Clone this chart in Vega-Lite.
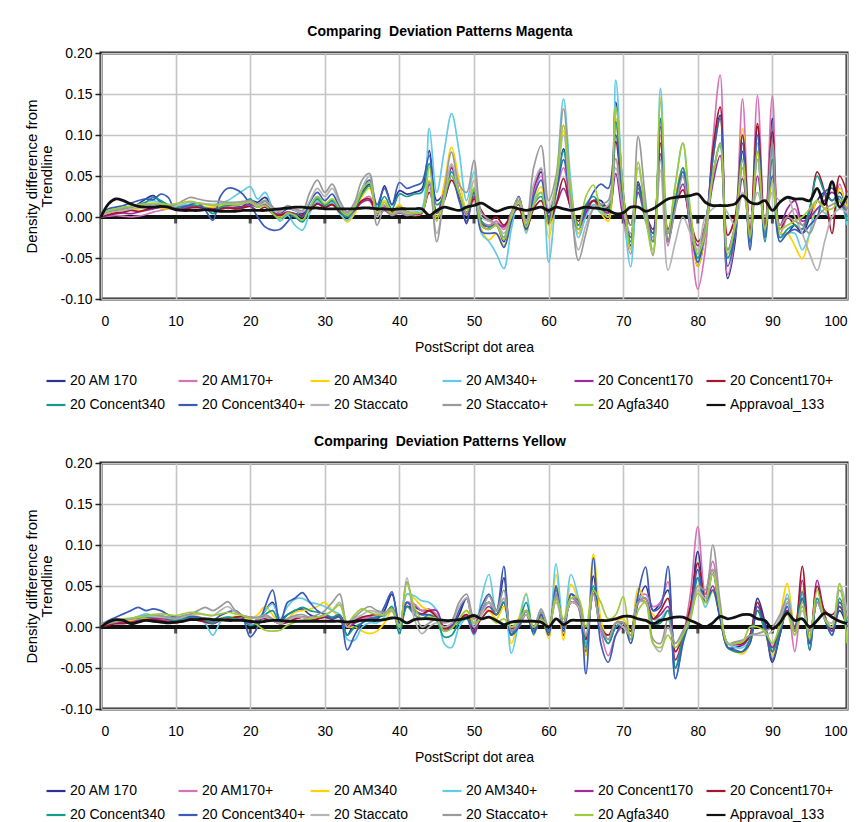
{
"$schema":"https://vega.github.io/schema/vega-lite/v6.json",
"background":"white",
"padding":{"left":22,"top":23,"right":4,"bottom":0},
"config":{
 "font":"Liberation Sans",
 "view":{"stroke":"#222222","strokeWidth":3},
 "title":{"fontSize":14,"fontWeight":"bold","color":"#000000","offset":7,"dx":-34},
 "axis":{"labelFont":"Liberation Sans","labelFontSize":14,"labelColor":"#000000","titleFont":"Liberation Sans","titleFontSize":14,"titleFontWeight":"normal","titleColor":"#000000","gridColor":"#c4c4c4","gridWidth":1.6,"domain":false},
 "axisX":{"ticks":false,"labelPadding":15,"titlePadding":12},
 "axisY":{"tickSize":6,"tickColor":"#222222","tickWidth":1.5,"labelPadding":3,"titlePadding":6,"titleFontSize":15,"titleLineHeight":15},
 "legend":{"labelFont":"Liberation Sans","labelFontSize":14,"labelColor":"#000000","symbolType":"stroke","symbolStrokeWidth":2.2,"symbolSize":360,"columns":6,"gridAlign":"all","columnPadding":0,"rowPadding":6,"labelOffset":3,"orient":"none","legendX":-56,"legendY":317,"direction":"horizontal","title":null},
 "concat":{"spacing":19}
},
"datasets":{
"names":[{"k":"a","n":"20 AM 170"},{"k":"b","n":"20 AM170+"},{"k":"c","n":"20 AM340"},{"k":"d","n":"20 AM340+"},{"k":"e","n":"20 Concent170"},{"k":"f","n":"20 Concent170+"},{"k":"g","n":"20 Concent340"},{"k":"h","n":"20 Concent340+"},{"k":"i","n":"20 Staccato"},{"k":"j","n":"20 Staccato+"},{"k":"k","n":"20 Agfa340"},{"k":"z","n":"Appravoal_133"}],
"mag":[
{"x":0,"a":0.002,"b":0,"c":0,"d":0.003,"e":0,"f":0,"g":0.002,"h":0.005,"i":0.002,"j":0.003,"k":0.004,"z":0},
{"x":1,"a":0.006,"b":0.001,"c":0.004,"d":0.008,"e":0.002,"f":0.003,"g":0.006,"h":0.01,"i":0.005,"j":0.007,"k":0.008,"z":0.016},
{"x":2,"a":0.008,"b":0.002,"c":0.006,"d":0.01,"e":0.004,"f":0.005,"g":0.009,"h":0.012,"i":0.007,"j":0.009,"k":0.01,"z":0.022},
{"x":3,"a":0.01,"b":0.001,"c":0.008,"d":0.012,"e":0.005,"f":0.006,"g":0.011,"h":0.014,"i":0.008,"j":0.01,"k":0.012,"z":0.02},
{"x":4,"a":0.012,"b":0,"c":0.009,"d":0.013,"e":0.004,"f":0.008,"g":0.013,"h":0.017,"i":0.01,"j":0.012,"k":0.013,"z":0.016},
{"x":5,"a":0.016,"b":0.001,"c":0.01,"d":0.015,"e":0.006,"f":0.007,"g":0.015,"h":0.02,"i":0.011,"j":0.013,"k":0.015,"z":0.013},
{"x":6,"a":0.022,"b":0.003,"c":0.012,"d":0.018,"e":0.008,"f":0.009,"g":0.018,"h":0.022,"i":0.013,"j":0.015,"k":0.016,"z":0.012},
{"x":7,"a":0.026,"b":0.006,"c":0.012,"d":0.02,"e":0.01,"f":0.012,"g":0.024,"h":0.021,"i":0.014,"j":0.016,"k":0.017,"z":0.012},
{"x":8,"a":0.018,"b":0.008,"c":0.011,"d":0.017,"e":0.012,"f":0.015,"g":0.02,"h":0.028,"i":0.013,"j":0.014,"k":0.016,"z":0.013},
{"x":9,"a":0.012,"b":0.01,"c":0.01,"d":0.014,"e":0.013,"f":0.014,"g":0.015,"h":0.024,"i":0.012,"j":0.013,"k":0.015,"z":0.012},
{"x":10,"a":0.01,"b":0.01,"c":0.011,"d":0.012,"e":0.011,"f":0.01,"g":0.012,"h":0.008,"i":0.013,"j":0.015,"k":0.016,"z":0.009},
{"x":11,"a":0.012,"b":0.011,"c":0.013,"d":0.014,"e":0.01,"f":0.009,"g":0.013,"h":0.012,"i":0.016,"j":0.02,"k":0.018,"z":0.008},
{"x":12,"a":0.013,"b":0.012,"c":0.015,"d":0.016,"e":0.012,"f":0.011,"g":0.014,"h":0.015,"i":0.018,"j":0.024,"k":0.019,"z":0.008},
{"x":13,"a":0.012,"b":0.011,"c":0.014,"d":0.017,"e":0.013,"f":0.012,"g":0.014,"h":0.017,"i":0.017,"j":0.022,"k":0.017,"z":0.008},
{"x":14,"a":0.01,"b":0.01,"c":0.012,"d":0.016,"e":0.011,"f":0.01,"g":0.011,"h":0.008,"i":0.016,"j":0.02,"k":0.015,"z":0.009},
{"x":15,"a":0.009,"b":0.009,"c":0.012,"d":0.015,"e":0.01,"f":0.009,"g":0.004,"h":-0.004,"i":0.015,"j":0.019,"k":0.014,"z":0.008},
{"x":16,"a":0.01,"b":0.01,"c":0.013,"d":0.017,"e":0.011,"f":0.01,"g":0.012,"h":0.025,"i":0.016,"j":0.019,"k":0.015,"z":0.007},
{"x":17,"a":0.011,"b":0.011,"c":0.014,"d":0.02,"e":0.012,"f":0.011,"g":0.014,"h":0.035,"i":0.016,"j":0.018,"k":0.016,"z":0.007},
{"x":18,"a":0.012,"b":0.01,"c":0.014,"d":0.026,"e":0.011,"f":0.01,"g":0.015,"h":0.034,"i":0.017,"j":0.018,"k":0.015,"z":0.007},
{"x":19,"a":0.013,"b":0.011,"c":0.016,"d":0.032,"e":0.012,"f":0.011,"g":0.016,"h":0.028,"i":0.018,"j":0.019,"k":0.016,"z":0.008},
{"x":20,"a":0.02,"b":0.015,"c":0.02,"d":0.037,"e":0.016,"f":0.013,"g":0.022,"h":0.015,"i":0.018,"j":0.02,"k":0.018,"z":0.008},
{"x":21,"a":0.018,"b":0.012,"c":0.015,"d":0.022,"e":0.012,"f":0.008,"g":0.012,"h":0,"i":0.014,"j":0.016,"k":0.012,"z":0.008},
{"x":22,"a":0.024,"b":0.015,"c":0.02,"d":0.03,"e":0.016,"f":0.012,"g":0.02,"h":-0.012,"i":0.017,"j":0.02,"k":0.014,"z":0.008},
{"x":23,"a":0.012,"b":0.006,"c":0.008,"d":0.01,"e":0.006,"f":0.004,"g":0.005,"h":-0.016,"i":0.01,"j":0.012,"k":0.004,"z":0.009},
{"x":24,"a":0.005,"b":0.002,"c":0,"d":-0.005,"e":0.003,"f":0.002,"g":-0.002,"h":-0.015,"i":0.006,"j":0.008,"k":-0.002,"z":0.01},
{"x":25,"a":0.01,"b":0.006,"c":0.005,"d":0.002,"e":0.006,"f":0.005,"g":0.004,"h":-0.006,"i":0.012,"j":0.014,"k":0.005,"z":0.011},
{"x":26,"a":0.008,"b":0.004,"c":0.002,"d":-0.01,"e":0.004,"f":0.004,"g":0,"h":0.004,"i":0.008,"j":0.01,"k":0.002,"z":0.012},
{"x":27,"a":0.004,"b":0.002,"c":-0.004,"d":-0.016,"e":0.002,"f":0.002,"g":-0.006,"h":0,"i":0.006,"j":0.008,"k":-0.004,"z":0.012},
{"x":28,"a":0.012,"b":0.008,"c":0.01,"d":0.005,"e":0.008,"f":0.008,"g":0.01,"h":0.018,"i":0.02,"j":0.03,"k":0.012,"z":0.011},
{"x":29,"a":0.025,"b":0.018,"c":0.022,"d":0.02,"e":0.016,"f":0.016,"g":0.022,"h":0.03,"i":0.035,"j":0.045,"k":0.025,"z":0.011},
{"x":30,"a":0.015,"b":0.012,"c":0.014,"d":0.012,"e":0.012,"f":0.012,"g":0.014,"h":0.02,"i":0.025,"j":0.03,"k":0.016,"z":0.01},
{"x":31,"a":0.02,"b":0.016,"c":0.018,"d":0.018,"e":0.015,"f":0.015,"g":0.02,"h":0.028,"i":0.035,"j":0.04,"k":0.022,"z":0.01},
{"x":32,"a":0.01,"b":0.008,"c":0.006,"d":0.004,"e":0.006,"f":0.006,"g":0.008,"h":0.012,"i":0.016,"j":0.02,"k":0.01,"z":0.01},
{"x":33,"a":0.004,"b":0.002,"c":-0.006,"d":-0.004,"e":0,"f":0.002,"g":0,"h":0.005,"i":0.004,"j":0.006,"k":0.002,"z":0.01},
{"x":34,"a":0.012,"b":0.01,"c":0.004,"d":0.008,"e":0.008,"f":0.01,"g":0.01,"h":0.015,"i":0.015,"j":0.018,"k":0.012,"z":0.01},
{"x":35,"a":0.03,"b":0.02,"c":0.025,"d":0.035,"e":0.018,"f":0.02,"g":0.028,"h":0.034,"i":0.035,"j":0.045,"k":0.033,"z":0.011},
{"x":36,"a":0.04,"b":0.025,"c":0.035,"d":0.05,"e":0.02,"f":0.022,"g":0.038,"h":0.045,"i":0.05,"j":0.053,"k":0.042,"z":0.011},
{"x":37,"a":0.01,"b":0.005,"c":0.008,"d":0.012,"e":0.004,"f":0.008,"g":0.01,"h":0.015,"i":0,"j":-0.01,"k":0.005,"z":0.01},
{"x":38,"a":0.038,"b":0.012,"c":0.02,"d":0.015,"e":0.008,"f":0.014,"g":0.025,"h":0.035,"i":0.015,"j":0.01,"k":0.018,"z":0.01},
{"x":39,"a":0.015,"b":0.006,"c":0.006,"d":0.005,"e":0.002,"f":0.006,"g":0.01,"h":0.015,"i":0.004,"j":0.002,"k":0.004,"z":0.009},
{"x":40,"a":0.032,"b":0.008,"c":0.015,"d":0.012,"e":0.005,"f":0.012,"g":0.028,"h":0.042,"i":0.008,"j":0.006,"k":0.012,"z":0.01},
{"x":41,"a":0.028,"b":0.004,"c":0.004,"d":0.006,"e":0.002,"f":0.006,"g":0.025,"h":0.035,"i":0.004,"j":0.002,"k":0.006,"z":0.01},
{"x":42,"a":0.03,"b":0.004,"c":0.002,"d":0.006,"e":0.003,"f":0.005,"g":0.028,"h":0.038,"i":0.005,"j":0.004,"k":0.005,"z":0.01},
{"x":43,"a":0.034,"b":0.006,"c":0.004,"d":0.01,"e":0.004,"f":0.006,"g":0.03,"h":0.042,"i":0.006,"j":0.006,"k":0.006,"z":0.01},
{"x":44,"a":0.081,"b":0.04,"c":0.045,"d":0.108,"e":0.04,"f":0.03,"g":0.065,"h":0.075,"i":0.035,"j":0.043,"k":0.061,"z":0.002},
{"x":45,"a":0.02,"b":0.005,"c":0,"d":0.03,"e":0.005,"f":0.005,"g":0.015,"h":0.005,"i":-0.02,"j":-0.03,"k":-0.005,"z":0.008},
{"x":46,"a":0.03,"b":0.03,"c":0.04,"d":0.08,"e":0.03,"f":0.02,"g":0.025,"h":0.02,"i":0.02,"j":0.03,"k":0.025,"z":0.012},
{"x":47,"a":0.06,"b":0.063,"c":0.085,"d":0.126,"e":0.06,"f":0.045,"g":0.055,"h":0.05,"i":0.065,"j":0.079,"k":0.05,"z":0.01},
{"x":48,"a":0.03,"b":0.03,"c":0.045,"d":0.08,"e":0.03,"f":0.025,"g":0.03,"h":0.02,"i":0.03,"j":0.04,"k":0.03,"z":0.008},
{"x":49,"a":-0.008,"b":0.002,"c":0.01,"d":0.02,"e":0.004,"f":0.006,"g":0.005,"h":-0.005,"i":0.01,"j":0.03,"k":0.005,"z":0.012},
{"x":50,"a":0.03,"b":0.02,"c":0.045,"d":0.055,"e":0.025,"f":0.022,"g":0.03,"h":0.035,"i":0.045,"j":0.069,"k":0.035,"z":0.014},
{"x":51,"a":-0.01,"b":-0.005,"c":-0.015,"d":-0.02,"e":-0.008,"f":0.008,"g":-0.005,"h":-0.018,"i":0,"j":0.005,"k":-0.01,"z":0.017},
{"x":52,"a":-0.015,"b":-0.01,"c":-0.028,"d":-0.03,"e":-0.012,"f":-0.005,"g":-0.012,"h":-0.02,"i":-0.005,"j":-0.003,"k":-0.015,"z":0.012},
{"x":53,"a":-0.01,"b":-0.005,"c":-0.02,"d":-0.045,"e":-0.008,"f":0,"g":-0.01,"h":-0.02,"i":-0.008,"j":-0.01,"k":-0.01,"z":0.007},
{"x":54,"a":-0.03,"b":-0.015,"c":-0.035,"d":-0.063,"e":-0.012,"f":-0.01,"g":-0.025,"h":-0.037,"i":-0.02,"j":-0.025,"k":-0.028,"z":0.01},
{"x":55,"a":0,"b":0.005,"c":-0.005,"d":-0.015,"e":0.005,"f":0.002,"g":0,"h":-0.005,"i":0,"j":0.005,"k":0.002,"z":0.012},
{"x":56,"a":0.025,"b":0.02,"c":0.018,"d":0.02,"e":0.015,"f":0.01,"g":0.02,"h":0.025,"i":0.018,"j":0.024,"k":0.02,"z":0.01},
{"x":57,"a":-0.015,"b":-0.012,"c":-0.018,"d":-0.02,"e":-0.012,"f":-0.015,"g":-0.01,"h":-0.015,"i":-0.008,"j":-0.005,"k":-0.012,"z":0.008},
{"x":58,"a":0.03,"b":0.03,"c":0.02,"d":0.02,"e":0.035,"f":0.01,"g":0.015,"h":0.025,"i":0.04,"j":0.06,"k":0.015,"z":0.01},
{"x":59,"a":0.055,"b":0.05,"c":0.037,"d":0.03,"e":0.059,"f":0.02,"g":0.025,"h":0.045,"i":0.06,"j":0.087,"k":0.03,"z":0.012},
{"x":60,"a":0.005,"b":0,"c":-0.025,"d":-0.055,"e":0,"f":-0.008,"g":-0.005,"h":-0.002,"i":0.01,"j":0.02,"k":-0.01,"z":0.008},
{"x":61,"a":0.035,"b":0.03,"c":0.035,"d":0.03,"e":0.015,"f":0.015,"g":0.03,"h":0.03,"i":0.04,"j":0.05,"k":0.04,"z":0.012},
{"x":62,"a":0.083,"b":0.06,"c":0.105,"d":0.144,"e":0.035,"f":0.047,"g":0.08,"h":0.07,"i":0.1,"j":0.132,"k":0.112,"z":0.01},
{"x":63,"a":0.02,"b":0.01,"c":0.03,"d":0.04,"e":0.01,"f":0.01,"g":0.02,"h":0.015,"i":0.01,"j":0.02,"k":0.03,"z":0.008},
{"x":64,"a":-0.01,"b":-0.02,"c":-0.02,"d":-0.025,"e":-0.01,"f":-0.005,"g":-0.01,"h":-0.015,"i":-0.04,"j":-0.053,"k":-0.015,"z":0.01},
{"x":65,"a":0.01,"b":0.005,"c":0.01,"d":0,"e":0.005,"f":0.01,"g":0.015,"h":0.01,"i":-0.01,"j":-0.02,"k":0.025,"z":0.012},
{"x":66,"a":0.02,"b":0.015,"c":0.02,"d":0.015,"e":0.02,"f":0.02,"g":0.025,"h":0.03,"i":0.01,"j":0.01,"k":0.039,"z":0.011},
{"x":67,"a":0.02,"b":0.01,"c":0.005,"d":0.005,"e":0.01,"f":0.015,"g":0.015,"h":0.04,"i":0.01,"j":0.015,"k":0.01,"z":0.01},
{"x":68,"a":0.01,"b":0,"c":-0.005,"d":0.005,"e":0.005,"f":0.012,"g":0.01,"h":0.035,"i":0.015,"j":0.02,"k":0,"z":0.008},
{"x":69,"a":0.14,"b":0.12,"c":0.12,"d":0.167,"e":0.053,"f":0.092,"g":0.116,"h":0.1,"i":0.06,"j":0.071,"k":0.134,"z":0.004},
{"x":70,"a":0.03,"b":0,"c":0.02,"d":0.02,"e":0,"f":0.02,"g":0.02,"h":0.02,"i":0.01,"j":0.01,"k":0.03,"z":0.005},
{"x":71,"a":-0.035,"b":-0.045,"c":-0.04,"d":-0.061,"e":-0.02,"f":-0.01,"g":-0.03,"h":-0.025,"i":-0.02,"j":-0.01,"k":-0.039,"z":0.012},
{"x":72,"a":0.043,"b":0.03,"c":0.035,"d":0.04,"e":0.03,"f":0.039,"g":0.035,"h":0.04,"i":0.06,"j":0.098,"k":0.067,"z":0.012},
{"x":73,"a":0,"b":-0.005,"c":-0.005,"d":-0.005,"e":0,"f":0.005,"g":0,"h":0.005,"i":0.01,"j":0.02,"k":0,"z":0.007},
{"x":74,"a":-0.025,"b":-0.03,"c":-0.03,"d":-0.025,"e":-0.02,"f":-0.015,"g":-0.03,"h":-0.02,"i":-0.04,"j":-0.047,"k":-0.045,"z":0.01},
{"x":75,"a":0.12,"b":0.1,"c":0.145,"d":0.157,"e":0.077,"f":0.09,"g":0.12,"h":0.11,"i":0.057,"j":0.07,"k":0.14,"z":0.016},
{"x":76,"a":-0.03,"b":-0.035,"c":-0.03,"d":-0.02,"e":-0.02,"f":-0.015,"g":-0.03,"h":-0.03,"i":-0.065,"j":-0.03,"k":-0.02,"z":0.022},
{"x":77,"a":0.02,"b":0.02,"c":0.025,"d":0.04,"e":0.015,"f":0.015,"g":0.02,"h":0.015,"i":-0.03,"j":0.01,"k":0.04,"z":0.024},
{"x":78,"a":0.06,"b":0.05,"c":0.06,"d":0.09,"e":0.04,"f":0.033,"g":0.06,"h":0.055,"i":0,"j":0.05,"k":0.09,"z":0.025},
{"x":79,"a":0,"b":-0.02,"c":-0.01,"d":0,"e":-0.01,"f":-0.005,"g":-0.01,"h":-0.01,"i":-0.02,"j":-0.01,"k":0.01,"z":0.026},
{"x":80,"a":-0.06,"b":-0.088,"c":-0.06,"d":-0.05,"e":-0.035,"f":-0.03,"g":-0.05,"h":-0.055,"i":-0.04,"j":-0.045,"k":-0.045,"z":0.028},
{"x":81,"a":-0.02,"b":-0.04,"c":-0.02,"d":-0.02,"e":-0.015,"f":-0.01,"g":-0.02,"h":-0.015,"i":0,"j":-0.01,"k":-0.02,"z":0.018},
{"x":82,"a":0.07,"b":0.09,"c":0.07,"d":0.05,"e":0.04,"f":0.08,"g":0.05,"h":0.07,"i":0.01,"j":0.05,"k":0.05,"z":0.014},
{"x":83,"a":0.124,"b":0.173,"c":0.12,"d":0.09,"e":0.075,"f":0.134,"g":0.087,"h":0.12,"i":0.015,"j":0.09,"k":0.088,"z":0.014},
{"x":84,"a":-0.075,"b":-0.07,"c":-0.05,"d":-0.05,"e":-0.04,"f":-0.022,"g":-0.05,"h":-0.06,"i":0.005,"j":-0.04,"k":-0.045,"z":0.014},
{"x":85,"a":-0.03,"b":-0.02,"c":-0.02,"d":-0.01,"e":-0.01,"f":0,"g":-0.02,"h":-0.02,"i":-0.01,"j":-0.01,"k":-0.01,"z":0.016},
{"x":86,"a":0.08,"b":0.144,"c":0.108,"d":0.1,"e":0.047,"f":0.1,"g":0.07,"h":0.09,"i":0.03,"j":0.06,"k":0.07,"z":0.026},
{"x":87,"a":-0.03,"b":-0.04,"c":-0.03,"d":-0.035,"e":-0.02,"f":-0.015,"g":-0.03,"h":-0.04,"i":0,"j":-0.02,"k":-0.025,"z":0.018},
{"x":88,"a":0.11,"b":0.148,"c":0.1,"d":0.09,"e":0.05,"f":0.114,"g":0.08,"h":0.1,"i":0.03,"j":0.07,"k":0.08,"z":0.016},
{"x":89,"a":-0.02,"b":-0.02,"c":-0.02,"d":-0.02,"e":-0.01,"f":-0.01,"g":-0.03,"h":-0.025,"i":0,"j":-0.015,"k":-0.015,"z":0.02},
{"x":90,"a":0.12,"b":0.148,"c":0.09,"d":0.085,"e":0.05,"f":0.104,"g":0.07,"h":0.09,"i":0.03,"j":0.09,"k":0.043,"z":0.008},
{"x":91,"a":-0.02,"b":-0.02,"c":-0.02,"d":-0.025,"e":-0.01,"f":-0.015,"g":-0.025,"h":-0.03,"i":0.02,"j":-0.01,"k":-0.015,"z":0.018},
{"x":92,"a":-0.02,"b":0,"c":-0.02,"d":-0.02,"e":0.01,"f":0,"g":-0.015,"h":-0.02,"i":0.025,"j":0,"k":-0.01,"z":0.024},
{"x":93,"a":-0.01,"b":0.01,"c":-0.035,"d":-0.02,"e":0.02,"f":-0.01,"g":-0.01,"h":-0.015,"i":0,"j":-0.005,"k":-0.005,"z":0.022},
{"x":94,"a":-0.02,"b":-0.01,"c":-0.051,"d":-0.04,"e":-0.005,"f":-0.015,"g":-0.015,"h":-0.02,"i":-0.02,"j":-0.01,"k":0,"z":0.022},
{"x":95,"a":0,"b":0.005,"c":-0.02,"d":-0.02,"e":0,"f":0.01,"g":0.01,"h":-0.01,"i":-0.045,"j":-0.02,"k":0.01,"z":0.02},
{"x":96,"a":0.02,"b":0.02,"c":0.02,"d":0.01,"e":0.01,"f":0.055,"g":0.05,"h":0,"i":-0.065,"j":0,"k":0.02,"z":0.035},
{"x":97,"a":0.03,"b":0.01,"c":0.01,"d":0.005,"e":0.02,"f":0.03,"g":0.03,"h":0.03,"i":-0.03,"j":0.01,"k":0.01,"z":0.015},
{"x":98,"a":0.02,"b":0,"c":0,"d":0,"e":0.03,"f":-0.02,"g":0.02,"h":0.035,"i":0,"j":0.015,"k":0.01,"z":0.043},
{"x":99,"a":0.03,"b":0.04,"c":0.035,"d":0.02,"e":0.02,"f":0.05,"g":0.025,"h":0.02,"i":0.01,"j":0.02,"k":0.02,"z":0.012},
{"x":100,"a":0.01,"b":0,"c":0.01,"d":-0.01,"e":0,"f":0.03,"g":-0.005,"h":0.01,"i":0.005,"j":0.01,"k":0.02,"z":0.026}
],
"yel":[
{"x":0,"a":0,"b":0.002,"c":0.001,"d":0,"e":0.001,"f":0,"g":0.002,"h":0.003,"i":0.002,"j":0.001,"k":0.003,"z":0},
{"x":1,"a":0.004,"b":0.005,"c":0.004,"d":0.003,"e":0.003,"f":0.002,"g":0.005,"h":0.008,"i":0.005,"j":0.004,"k":0.006,"z":0.006},
{"x":2,"a":0.006,"b":0.004,"c":0.006,"d":0.006,"e":0.005,"f":0.004,"g":0.008,"h":0.012,"i":0.007,"j":0.006,"k":0.008,"z":0.009},
{"x":3,"a":0.008,"b":0.005,"c":0.007,"d":0.008,"e":0.005,"f":0.004,"g":0.009,"h":0.016,"i":0.008,"j":0.008,"k":0.01,"z":0.008},
{"x":4,"a":0.01,"b":0.006,"c":0.008,"d":0.01,"e":0.006,"f":0.005,"g":0.01,"h":0.02,"i":0.01,"j":0.01,"k":0.011,"z":0.004},
{"x":5,"a":0.012,"b":0.007,"c":0.009,"d":0.013,"e":0.008,"f":0.006,"g":0.011,"h":0.024,"i":0.012,"j":0.012,"k":0.012,"z":0.006},
{"x":6,"a":0.012,"b":0.008,"c":0.01,"d":0.016,"e":0.009,"f":0.008,"g":0.012,"h":0.02,"i":0.013,"j":0.014,"k":0.013,"z":0.008},
{"x":7,"a":0.011,"b":0.009,"c":0.011,"d":0.014,"e":0.01,"f":0.009,"g":0.012,"h":0.022,"i":0.013,"j":0.015,"k":0.015,"z":0.007},
{"x":8,"a":0.01,"b":0.01,"c":0.012,"d":0.013,"e":0.011,"f":0.008,"g":0.013,"h":0.02,"i":0.012,"j":0.014,"k":0.016,"z":0.006},
{"x":9,"a":0.008,"b":0.008,"c":0.011,"d":0.012,"e":0.009,"f":0.006,"g":0.01,"h":0.015,"i":0.011,"j":0.012,"k":0.015,"z":0.005},
{"x":10,"a":0.007,"b":0.006,"c":0.01,"d":0.01,"e":0.008,"f":0.005,"g":0.008,"h":0.012,"i":0.01,"j":0.011,"k":0.014,"z":0.006},
{"x":11,"a":0.008,"b":0.007,"c":0.012,"d":0.011,"e":0.009,"f":0.007,"g":0.01,"h":0.012,"i":0.012,"j":0.014,"k":0.016,"z":0.007},
{"x":12,"a":0.01,"b":0.009,"c":0.014,"d":0.013,"e":0.01,"f":0.009,"g":0.012,"h":0.013,"i":0.015,"j":0.016,"k":0.018,"z":0.009},
{"x":13,"a":0.009,"b":0.008,"c":0.013,"d":0.012,"e":0.009,"f":0.008,"g":0.011,"h":0.012,"i":0.016,"j":0.02,"k":0.017,"z":0.009},
{"x":14,"a":0.006,"b":0.006,"c":0.01,"d":0.004,"e":0.007,"f":0.006,"g":0.008,"h":0.01,"i":0.015,"j":0.024,"k":0.015,"z":0.01},
{"x":15,"a":0.004,"b":0.005,"c":0.008,"d":-0.01,"e":0.006,"f":0.005,"g":0.005,"h":0.008,"i":0.014,"j":0.02,"k":0.014,"z":0.009},
{"x":16,"a":0.008,"b":0.008,"c":0.011,"d":0.006,"e":0.009,"f":0.008,"g":0.01,"h":0.014,"i":0.02,"j":0.025,"k":0.016,"z":0.009},
{"x":17,"a":0.01,"b":0.01,"c":0.012,"d":0.012,"e":0.01,"f":0.01,"g":0.012,"h":0.018,"i":0.025,"j":0.031,"k":0.018,"z":0.008},
{"x":18,"a":0.012,"b":0.01,"c":0.013,"d":0.01,"e":0.01,"f":0.012,"g":0.01,"h":0.02,"i":0.018,"j":0.02,"k":0.016,"z":0.008},
{"x":19,"a":0.01,"b":0.009,"c":0.012,"d":0.008,"e":0.008,"f":0.013,"g":0.008,"h":0.012,"i":0.014,"j":0.014,"k":0.014,"z":0.008},
{"x":20,"a":0.006,"b":0.006,"c":0.01,"d":0.004,"e":0.005,"f":0.012,"g":0.002,"h":-0.012,"i":0.012,"j":0.012,"k":0.01,"z":0.007},
{"x":21,"a":0.008,"b":0.008,"c":0.015,"d":0.01,"e":0.008,"f":0.01,"g":0.005,"h":0,"i":0.01,"j":0.012,"k":0.002,"z":0.006},
{"x":22,"a":0.02,"b":0.012,"c":0.025,"d":0.02,"e":0.012,"f":0.01,"g":0.015,"h":0.025,"i":0.012,"j":0.015,"k":-0.004,"z":0.007},
{"x":23,"a":0.03,"b":0.01,"c":0.015,"d":0.028,"e":0.008,"f":0.008,"g":0.02,"h":0.045,"i":0.008,"j":0.01,"k":-0.005,"z":0.008},
{"x":24,"a":0.01,"b":0.004,"c":0.005,"d":0.01,"e":0.004,"f":0.004,"g":0.005,"h":0.005,"i":0.004,"j":0.006,"k":-0.004,"z":0.008},
{"x":25,"a":0.015,"b":0.008,"c":0.01,"d":0.025,"e":0.006,"f":0.006,"g":0.015,"h":0.03,"i":0.008,"j":0.01,"k":0.002,"z":0.007},
{"x":26,"a":0.02,"b":0.012,"c":0.018,"d":0.034,"e":0.01,"f":0.01,"g":0.02,"h":0.035,"i":0.012,"j":0.014,"k":0.006,"z":0.007},
{"x":27,"a":0.022,"b":0.012,"c":0.02,"d":0.035,"e":0.012,"f":0.012,"g":0.024,"h":0.042,"i":0.012,"j":0.015,"k":0.008,"z":0.007},
{"x":28,"a":0.015,"b":0.01,"c":0.022,"d":0.03,"e":0.01,"f":0.01,"g":0.02,"h":0.03,"i":0.01,"j":0.012,"k":0.01,"z":0.007},
{"x":29,"a":0.012,"b":0.01,"c":0.025,"d":0.028,"e":0.01,"f":0.01,"g":0.018,"h":0.02,"i":0.012,"j":0.015,"k":0.012,"z":0.007},
{"x":30,"a":0.014,"b":0.012,"c":0.03,"d":0.025,"e":0.012,"f":0.012,"g":0.016,"h":0.015,"i":0.014,"j":0.02,"k":0.015,"z":0.007},
{"x":31,"a":0.01,"b":0.01,"c":0.02,"d":0.02,"e":0.01,"f":0.01,"g":0.012,"h":0.01,"i":0.02,"j":0.03,"k":0.02,"z":0.007},
{"x":32,"a":0.014,"b":0.012,"c":0.012,"d":0.015,"e":0.014,"f":0.014,"g":0.015,"h":0.012,"i":0.03,"j":0.04,"k":0.027,"z":0.007},
{"x":33,"a":-0.01,"b":0,"c":0,"d":-0.015,"e":0,"f":0.002,"g":-0.01,"h":-0.028,"i":0,"j":0.005,"k":0.005,"z":0.006},
{"x":34,"a":0.005,"b":0.008,"c":0,"d":-0.016,"e":0.005,"f":0.008,"g":0,"h":-0.01,"i":0.01,"j":0.012,"k":0.015,"z":0.007},
{"x":35,"a":0.01,"b":0.01,"c":-0.005,"d":0,"e":0.008,"f":0.012,"g":0.005,"h":0.005,"i":0.015,"j":0.02,"k":0.022,"z":0.008},
{"x":36,"a":0.012,"b":0.012,"c":-0.008,"d":0.005,"e":0.01,"f":0.014,"g":0.01,"h":0.01,"i":0.02,"j":0.025,"k":0.018,"z":0.008},
{"x":37,"a":0.01,"b":0.012,"c":-0.005,"d":0.005,"e":0.012,"f":0.015,"g":0.012,"h":0.01,"i":0.018,"j":0.02,"k":0.015,"z":0.008},
{"x":38,"a":0.02,"b":0.015,"c":0.005,"d":0.012,"e":0.015,"f":0.015,"g":0.015,"h":0.025,"i":0.015,"j":0.018,"k":0.015,"z":0.009},
{"x":39,"a":0.04,"b":0.025,"c":0.02,"d":0.025,"e":0.022,"f":0.02,"g":0.025,"h":0.043,"i":0.02,"j":0.022,"k":0.022,"z":0.011},
{"x":40,"a":0.005,"b":0,"c":0,"d":-0.005,"e":0,"f":0,"g":-0.008,"h":0,"i":0,"j":0,"k":0,"z":0.01},
{"x":41,"a":0.03,"b":0.03,"c":0.04,"d":0.04,"e":0.025,"f":0.025,"g":0.025,"h":0.03,"i":0.06,"j":0.055,"k":0.053,"z":0.005},
{"x":42,"a":0.025,"b":0.028,"c":0.035,"d":0.038,"e":0.02,"f":0.02,"g":0.015,"h":0.02,"i":0.01,"j":0.02,"k":0.025,"z":0.009},
{"x":43,"a":0.02,"b":0.02,"c":0.025,"d":0.032,"e":0.015,"f":0.016,"g":0.01,"h":0.015,"i":-0.008,"j":0,"k":0.01,"z":0.01},
{"x":44,"a":0.02,"b":0.022,"c":0.02,"d":0.03,"e":0.02,"f":0.02,"g":0.015,"h":0.015,"i":0,"j":0.005,"k":0.012,"z":0.01},
{"x":45,"a":0.01,"b":0.015,"c":0.01,"d":0.02,"e":0.02,"f":0.012,"g":0.008,"h":0.01,"i":0.005,"j":0.01,"k":0.01,"z":0.009},
{"x":46,"a":-0.005,"b":0,"c":-0.005,"d":-0.02,"e":0,"f":-0.002,"g":-0.012,"h":-0.005,"i":0,"j":0.005,"k":-0.005,"z":0.008},
{"x":47,"a":0,"b":0.002,"c":0,"d":-0.025,"e":0.002,"f":0,"g":-0.01,"h":0,"i":0.005,"j":0.008,"k":-0.002,"z":0.008},
{"x":48,"a":0.015,"b":0.01,"c":0.01,"d":0,"e":0.01,"f":0.008,"g":0.005,"h":0.02,"i":0.025,"j":0.03,"k":0.01,"z":0.009},
{"x":49,"a":0.035,"b":0.015,"c":0.02,"d":0.01,"e":0.012,"f":0.015,"g":0.012,"h":0.035,"i":0.035,"j":0.04,"k":0.02,"z":0.011},
{"x":50,"a":0.01,"b":0.005,"c":0.01,"d":-0.01,"e":-0.008,"f":0,"g":0,"h":-0.002,"i":0,"j":0.01,"k":0.005,"z":0.014},
{"x":51,"a":0.02,"b":0.02,"c":0.02,"d":0.035,"e":0.015,"f":0.01,"g":0.02,"h":0.025,"i":0.015,"j":0.02,"k":0.01,"z":0.01},
{"x":52,"a":0.03,"b":0.03,"c":0.02,"d":0.064,"e":0.025,"f":0.02,"g":0.03,"h":0.04,"i":0.03,"j":0.038,"k":0.012,"z":0.012},
{"x":53,"a":0.02,"b":0.015,"c":0.01,"d":0.02,"e":0.015,"f":0.015,"g":0.015,"h":0.02,"i":0.02,"j":0.02,"k":0.005,"z":0.008},
{"x":54,"a":0.06,"b":0.035,"c":0.025,"d":0.035,"e":0.03,"f":0.03,"g":0.03,"h":0.074,"i":0.035,"j":0.045,"k":0.01,"z":0.003},
{"x":55,"a":-0.01,"b":-0.005,"c":-0.02,"d":-0.032,"e":-0.005,"f":-0.002,"g":-0.008,"h":-0.01,"i":0,"j":-0.005,"k":0,"z":0.006},
{"x":56,"a":0.005,"b":0,"c":0.01,"d":0.005,"e":0.005,"f":0.005,"g":0.005,"h":0,"i":0.005,"j":0.005,"k":0.01,"z":0.007},
{"x":57,"a":0.02,"b":0.015,"c":0.041,"d":0.04,"e":0.02,"f":0.015,"g":0.03,"h":0.02,"i":0.015,"j":0.02,"k":0.02,"z":0.007},
{"x":58,"a":-0.005,"b":-0.005,"c":-0.01,"d":-0.01,"e":-0.005,"f":-0.005,"g":-0.005,"h":-0.008,"i":0,"j":0,"k":0,"z":0.007},
{"x":59,"a":0.015,"b":0.012,"c":0.015,"d":0.02,"e":0.015,"f":0.01,"g":0.018,"h":0.015,"i":0.02,"j":0.022,"k":0.01,"z":0.006},
{"x":60,"a":-0.005,"b":0,"c":-0.014,"d":-0.005,"e":0,"f":0,"g":-0.005,"h":-0.01,"i":0,"j":0,"k":0,"z":0},
{"x":61,"a":0.05,"b":0.04,"c":0.064,"d":0.077,"e":0.04,"f":0.035,"g":0.045,"h":0.05,"i":0.03,"j":0.04,"k":0.035,"z":0.01},
{"x":62,"a":-0.01,"b":0,"c":-0.016,"d":0,"e":0.005,"f":0.005,"g":0,"h":-0.005,"i":0.005,"j":0.005,"k":0.01,"z":0.003},
{"x":63,"a":0.04,"b":0.035,"c":0.052,"d":0.064,"e":0.03,"f":0.03,"g":0.035,"h":0.04,"i":0.03,"j":0.035,"k":0.035,"z":0.008},
{"x":64,"a":0.025,"b":0.025,"c":0.03,"d":0.035,"e":0.025,"f":0.025,"g":0.03,"h":0.03,"i":0.025,"j":0.03,"k":0.035,"z":0.008},
{"x":65,"a":-0.03,"b":-0.02,"c":-0.035,"d":-0.02,"e":-0.015,"f":-0.015,"g":-0.025,"h":-0.057,"i":-0.01,"j":-0.01,"k":0,"z":0.008},
{"x":66,"a":0.062,"b":0.045,"c":0.089,"d":0.05,"e":0.04,"f":0.045,"g":0.05,"h":0.084,"i":0.04,"j":0.04,"k":0.045,"z":0.008},
{"x":67,"a":0,"b":-0.005,"c":0.01,"d":0,"e":0,"f":0,"g":0,"h":-0.02,"i":0,"j":0,"k":0.03,"z":0.008},
{"x":68,"a":-0.02,"b":-0.035,"c":-0.015,"d":-0.02,"e":-0.015,"f":-0.01,"g":-0.02,"h":-0.043,"i":-0.015,"j":-0.015,"k":0.01,"z":0.008},
{"x":69,"a":0,"b":-0.01,"c":0.005,"d":0,"e":0,"f":0.005,"g":0,"h":-0.01,"i":0.005,"j":0.005,"k":0.015,"z":0.01},
{"x":70,"a":0.005,"b":0,"c":0.01,"d":0.005,"e":0.005,"f":0.005,"g":0.005,"h":0.005,"i":0,"j":0.005,"k":0.037,"z":0.013},
{"x":71,"a":-0.015,"b":-0.01,"c":-0.005,"d":-0.01,"e":-0.01,"f":-0.005,"g":-0.015,"h":-0.02,"i":-0.01,"j":-0.01,"k":-0.015,"z":0.013},
{"x":72,"a":0.03,"b":0.035,"c":0.047,"d":0.035,"e":0.03,"f":0.03,"g":0.03,"h":0.04,"i":0.03,"j":0.03,"k":0.02,"z":0.01},
{"x":73,"a":0.05,"b":0.04,"c":0.03,"d":0.035,"e":0.035,"f":0.03,"g":0.03,"h":0.073,"i":0.03,"j":0.035,"k":0.03,"z":0.008},
{"x":74,"a":0.02,"b":0.025,"c":0.015,"d":0.01,"e":0.01,"f":0.01,"g":0.005,"h":0.02,"i":-0.02,"j":-0.015,"k":-0.02,"z":0.004},
{"x":75,"a":0.03,"b":0.03,"c":0.01,"d":0.01,"e":0.015,"f":0.02,"g":0.005,"h":0.025,"i":-0.03,"j":-0.02,"k":-0.025,"z":0.008},
{"x":76,"a":0.045,"b":0.055,"c":0.02,"d":0.02,"e":0.025,"f":0.035,"g":0.02,"h":0.074,"i":0,"j":0.01,"k":-0.01,"z":0.01},
{"x":77,"a":-0.05,"b":-0.03,"c":-0.04,"d":-0.063,"e":-0.04,"f":-0.03,"g":-0.05,"h":-0.063,"i":-0.02,"j":-0.02,"k":-0.025,"z":0.012},
{"x":78,"a":-0.015,"b":-0.01,"c":-0.015,"d":-0.02,"e":-0.015,"f":-0.01,"g":-0.015,"h":-0.02,"i":-0.005,"j":-0.005,"k":-0.01,"z":0.012},
{"x":79,"a":0.02,"b":0.04,"c":0.015,"d":0.01,"e":0.02,"f":0.025,"g":0.01,"h":0.015,"i":0.01,"j":0.015,"k":0.01,"z":0.008},
{"x":80,"a":0.092,"b":0.122,"c":0.05,"d":0.06,"e":0.06,"f":0.078,"g":0.06,"h":0.07,"i":0.045,"j":0.05,"k":0.041,"z":0.004},
{"x":81,"a":0.04,"b":0.04,"c":0.025,"d":0.024,"e":0.03,"f":0.035,"g":0.03,"h":0.03,"i":0.035,"j":0.045,"k":0.03,"z":0},
{"x":82,"a":0.07,"b":0.08,"c":0.043,"d":0.045,"e":0.05,"f":0.07,"g":0.065,"h":0.045,"i":0.07,"j":0.1,"k":0.065,"z":0.005},
{"x":83,"a":0.015,"b":0.02,"c":0.01,"d":0.01,"e":0.01,"f":0.015,"g":0.015,"h":0.01,"i":0.02,"j":0.03,"k":0.02,"z":0.013},
{"x":84,"a":-0.025,"b":-0.02,"c":-0.025,"d":-0.02,"e":-0.02,"f":-0.02,"g":-0.025,"h":-0.025,"i":-0.02,"j":-0.02,"k":-0.02,"z":0.01},
{"x":85,"a":-0.025,"b":-0.022,"c":-0.03,"d":-0.025,"e":-0.02,"f":-0.02,"g":-0.03,"h":-0.028,"i":-0.02,"j":-0.018,"k":-0.02,"z":0.012},
{"x":86,"a":-0.022,"b":-0.02,"c":-0.033,"d":-0.025,"e":-0.022,"f":-0.02,"g":-0.03,"h":-0.03,"i":-0.018,"j":-0.016,"k":-0.018,"z":0.015},
{"x":87,"a":-0.01,"b":-0.01,"c":-0.02,"d":-0.015,"e":-0.01,"f":-0.01,"g":-0.015,"h":-0.02,"i":-0.01,"j":-0.01,"k":0,"z":0.015},
{"x":88,"a":0.035,"b":0.025,"c":0.02,"d":0.02,"e":0.02,"f":0.03,"g":0.02,"h":0.025,"i":-0.01,"j":-0.008,"k":0,"z":0.01},
{"x":89,"a":0.005,"b":0,"c":-0.005,"d":0,"e":0,"f":0,"g":-0.005,"h":0,"i":-0.01,"j":-0.005,"k":-0.005,"z":0.008},
{"x":90,"a":-0.043,"b":-0.03,"c":-0.035,"d":-0.025,"e":-0.025,"f":-0.03,"g":-0.03,"h":-0.04,"i":-0.005,"j":0,"k":-0.02,"z":-0.002},
{"x":91,"a":-0.01,"b":0,"c":0.01,"d":0,"e":0,"f":0,"g":-0.005,"h":-0.01,"i":0.01,"j":0.015,"k":0,"z":0.005},
{"x":92,"a":0.02,"b":0.025,"c":0.053,"d":0.04,"e":0.03,"f":0.02,"g":0.03,"h":0.025,"i":0.03,"j":0.035,"k":0.015,"z":0.017},
{"x":93,"a":0,"b":-0.03,"c":0,"d":0,"e":-0.005,"f":0,"g":-0.005,"h":-0.005,"i":-0.01,"j":-0.005,"k":-0.01,"z":0.008},
{"x":94,"a":0.035,"b":0.035,"c":0.045,"d":0.04,"e":0.057,"f":0.074,"g":0.043,"h":0.035,"i":0.02,"j":0.025,"k":0.03,"z":0.01},
{"x":95,"a":-0.02,"b":-0.01,"c":-0.01,"d":-0.015,"e":-0.028,"f":-0.02,"g":-0.028,"h":-0.02,"i":-0.005,"j":-0.005,"k":-0.015,"z":0},
{"x":96,"a":0.03,"b":0.035,"c":0.03,"d":0.03,"e":0.057,"f":0.05,"g":0.035,"h":0.03,"i":0.03,"j":0.03,"k":0.045,"z":0.008},
{"x":97,"a":0.01,"b":0.01,"c":0.01,"d":0.01,"e":0.015,"f":0.02,"g":0.01,"h":0.01,"i":0.01,"j":0.01,"k":0.01,"z":0.017},
{"x":98,"a":-0.005,"b":-0.005,"c":0,"d":0,"e":-0.005,"f":0.015,"g":-0.01,"h":-0.01,"i":0.005,"j":0,"k":0,"z":0.012},
{"x":99,"a":0.02,"b":0.025,"c":0.03,"d":0.03,"e":0.03,"f":0.025,"g":0.035,"h":0.025,"i":0.053,"j":0.045,"k":0.053,"z":0.007},
{"x":100,"a":0,"b":0.005,"c":0.01,"d":0.005,"e":0.01,"f":0.005,"g":0.005,"h":0,"i":0.02,"j":0.01,"k":-0.02,"z":0.004}
]
},
"vconcat":[
{
 "title":"Comparing\u00a0 Deviation Patterns Magenta",
 "width":746,"height":246,
 "layer":[
  {"data":{"values":[{"v":0}]},"mark":{"type":"rule","color":"#111111","strokeWidth":4},"encoding":{"y":{"field":"v","type":"quantitative","scale":{"domain":[-0.1,0.2],"nice":false,"zero":false},"title":["Density difference from","Trendline"]}}},
  {"data":{"values":[{"t":10},{"t":20},{"t":30},{"t":40},{"t":50},{"t":60},{"t":70},{"t":80},{"t":90}]},"mark":{"type":"tick","orient":"vertical","color":"#111111","size":7,"thickness":3,"yOffset":3},"encoding":{"x":{"field":"t","type":"quantitative","scale":{"domain":[0,100],"nice":false},"title":"PostScript dot area"},"y":{"datum":0}}},
  {"data":{"name":"mag"},"transform":[{"fold":["a","b","c","d","e","f","g","h","i","j","k","z"],"as":["k","y"]},{"filter":"datum.k !== 'z'"},{"lookup":"k","from":{"data":{"name":"names"},"key":"k","fields":["n"]}}],
   "mark":{"type":"line","interpolate":"catmull-rom","strokeWidth":1.7},
   "encoding":{
    "x":{"field":"x","type":"quantitative","scale":{"domain":[0,100],"nice":false},"axis":{"values":[0,10,20,30,40,50,60,70,80,90,100]},"title":"PostScript dot area"},
    "y":{"field":"y","type":"quantitative","scale":{"domain":[-0.1,0.2],"nice":false,"zero":false},"axis":{"values":[-0.1,-0.05,0,0.05,0.1,0.15,0.2],"format":".2f","labelExpr":"replace(datum.label, '\u2212', '-')"},"title":["Density difference from","Trendline"]},
    "color":{"field":"n","type":"nominal","scale":{"domain":["20 AM 170","20 AM170+","20 AM340","20 AM340+","20 Concent170","20 Concent170+","20 Concent340","20 Concent340+","20 Staccato","20 Staccato+","20 Agfa340","Appravoal_133"],"range":["#2e3192","#d872b8","#ffd200","#62cbe5","#9e2a9e","#a3162b","#159a8f","#3b5bb8","#b4b4b4","#9a9a9a","#9dcb3c","#111111"]}}
   }},
  {"data":{"name":"mag"},"transform":[{"fold":["z"],"as":["k","y"]},{"lookup":"k","from":{"data":{"name":"names"},"key":"k","fields":["n"]}}],
   "mark":{"type":"line","interpolate":"catmull-rom","strokeWidth":2.8},
   "encoding":{
    "x":{"field":"x","type":"quantitative","title":"PostScript dot area"},
    "y":{"field":"y","type":"quantitative","title":["Density difference from","Trendline"]},
    "color":{"field":"n","type":"nominal"}
   }}
 ]
},
{
 "title":"Comparing\u00a0 Deviation Patterns Yellow",
 "width":746,"height":246,
 "layer":[
  {"data":{"values":[{"v":0}]},"mark":{"type":"rule","color":"#111111","strokeWidth":4},"encoding":{"y":{"field":"v","type":"quantitative","scale":{"domain":[-0.1,0.2],"nice":false,"zero":false},"title":["Density difference from","Trendline"]}}},
  {"data":{"values":[{"t":10},{"t":20},{"t":30},{"t":40},{"t":50},{"t":60},{"t":70},{"t":80},{"t":90}]},"mark":{"type":"tick","orient":"vertical","color":"#111111","size":7,"thickness":3,"yOffset":3},"encoding":{"x":{"field":"t","type":"quantitative","scale":{"domain":[0,100],"nice":false},"title":"PostScript dot area"},"y":{"datum":0}}},
  {"data":{"name":"yel"},"transform":[{"fold":["a","b","c","d","e","f","g","h","i","j","k","z"],"as":["k","y"]},{"filter":"datum.k !== 'z'"},{"lookup":"k","from":{"data":{"name":"names"},"key":"k","fields":["n"]}}],
   "mark":{"type":"line","interpolate":"catmull-rom","strokeWidth":1.7},
   "encoding":{
    "x":{"field":"x","type":"quantitative","scale":{"domain":[0,100],"nice":false},"axis":{"values":[0,10,20,30,40,50,60,70,80,90,100]},"title":"PostScript dot area"},
    "y":{"field":"y","type":"quantitative","scale":{"domain":[-0.1,0.2],"nice":false,"zero":false},"axis":{"values":[-0.1,-0.05,0,0.05,0.1,0.15,0.2],"format":".2f","labelExpr":"replace(datum.label, '\u2212', '-')"},"title":["Density difference from","Trendline"]},
    "color":{"field":"n","type":"nominal","scale":{"domain":["20 AM 170","20 AM170+","20 AM340","20 AM340+","20 Concent170","20 Concent170+","20 Concent340","20 Concent340+","20 Staccato","20 Staccato+","20 Agfa340","Appravoal_133"],"range":["#2e3192","#d872b8","#ffd200","#62cbe5","#9e2a9e","#a3162b","#159a8f","#3b5bb8","#b4b4b4","#9a9a9a","#9dcb3c","#111111"]}}
   }},
  {"data":{"name":"yel"},"transform":[{"fold":["z"],"as":["k","y"]},{"lookup":"k","from":{"data":{"name":"names"},"key":"k","fields":["n"]}}],
   "mark":{"type":"line","interpolate":"catmull-rom","strokeWidth":2.8},
   "encoding":{
    "x":{"field":"x","type":"quantitative","title":"PostScript dot area"},
    "y":{"field":"y","type":"quantitative","title":["Density difference from","Trendline"]},
    "color":{"field":"n","type":"nominal"}
   }}
 ]
}
],
"resolve":{"scale":{"color":"independent"},"legend":{"color":"independent"}}
}
